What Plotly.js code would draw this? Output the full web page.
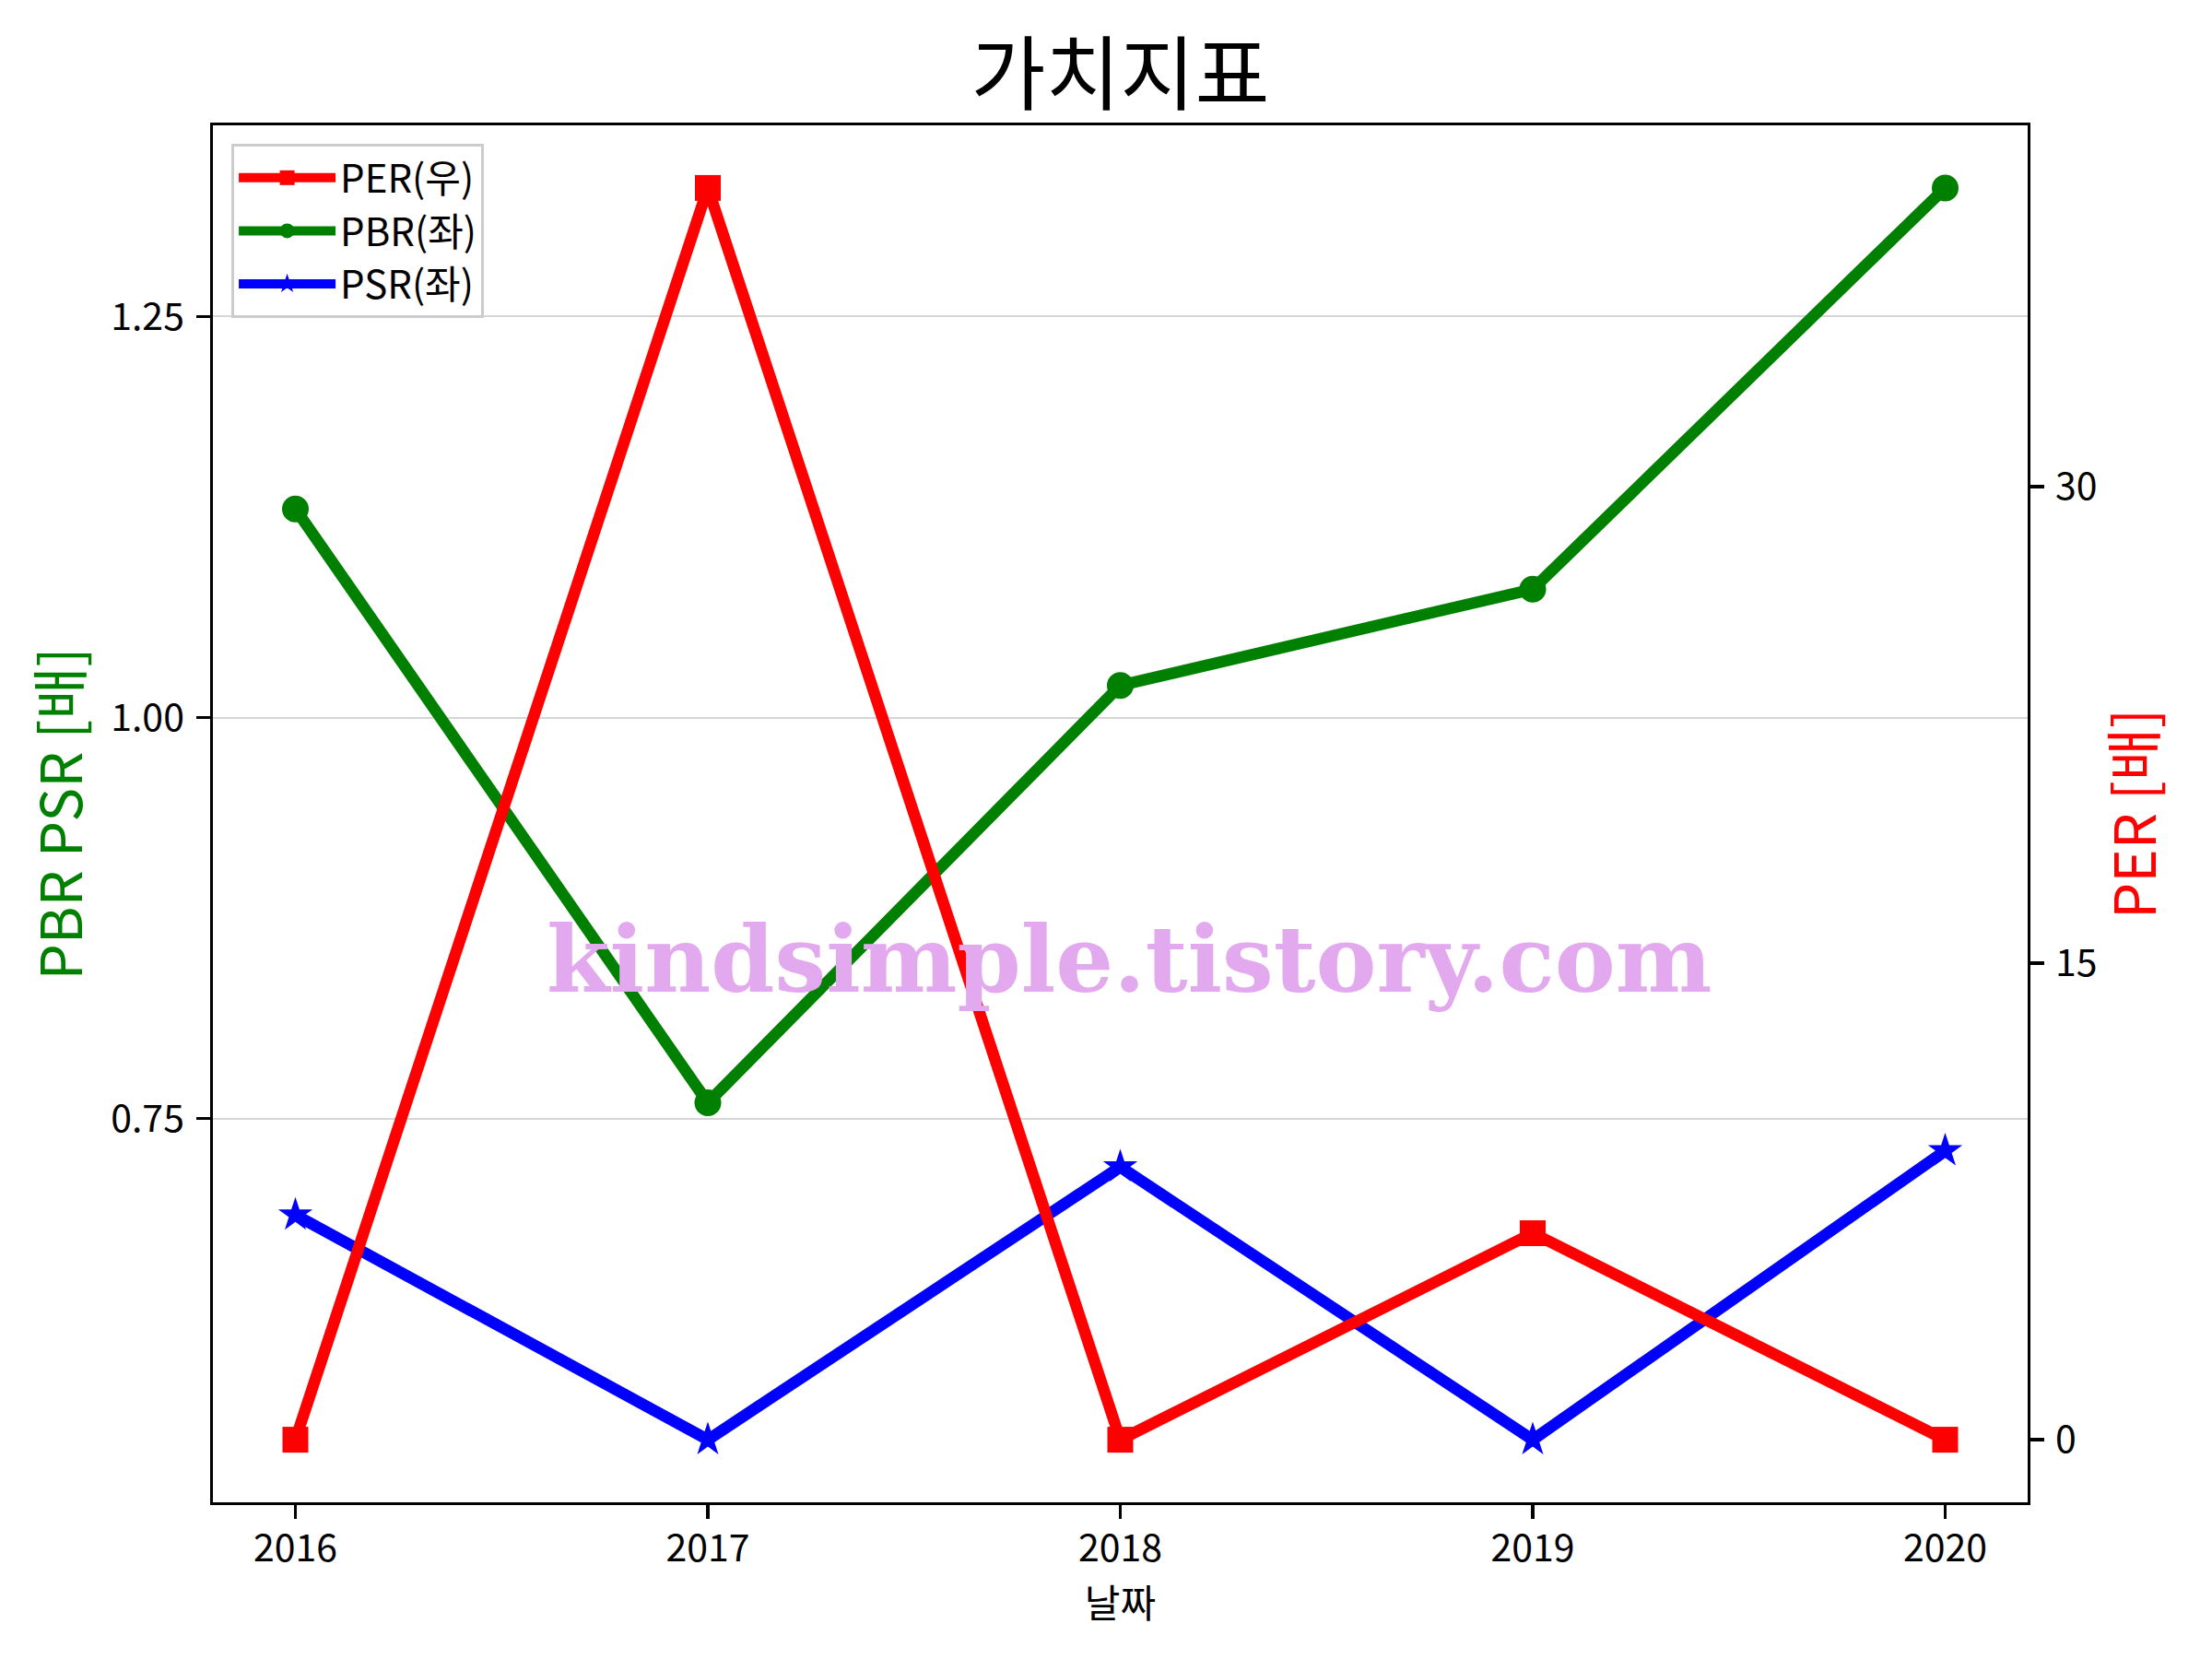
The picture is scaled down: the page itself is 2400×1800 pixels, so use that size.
<!DOCTYPE html>
<html>
<head>
<meta charset="utf-8">
<script src="https://cdn.plot.ly/plotly-3.0.1.min.js"></script>
<style>html,body{margin:0;padding:0;background:#fff;}</style>
</head>
<body>
<div id="chart" style="width:2400px;height:1800px;"></div>
<script>
const years = [2016, 2017, 2018, 2019, 2020];
const yearLabels = ['2016', '2017', '2018', '2019', '2020'];
const perValues = [0, 39.4, 0, 6.5, 0];
const pbrValues = [1.13, 0.76, 1.02, 1.08, 1.33];
const psrValues = [0.69, 0.55, 0.72, 0.55, 0.73];
const leftTicks = [0.75, 1.00, 1.25];
const leftTickLabels = ['0.75', '1.00', '1.25'];
const rightTicks = [0, 15, 30];
const rightTickLabels = ['0', '15', '30'];

function padRange(arrs) {
  const all = [].concat(...arrs);
  const lo = Math.min(...all), hi = Math.max(...all);
  const m = (hi - lo) * 0.05;
  return [lo - m, hi + m];
}

const FONT = '"Noto Sans CJK KR", "Noto Sans", sans-serif';
const LW = 12.5;

const traces = [
  {x: years, y: perValues, name: 'PER(우)', yaxis: 'y2', mode: 'lines+markers',
   line: {color: '#ff0000', width: LW}, marker: {symbol: 'square', size: 28, color: '#ff0000'}},
  {x: years, y: pbrValues, name: 'PBR(좌)', yaxis: 'y', mode: 'lines+markers',
   line: {color: '#008000', width: LW}, marker: {symbol: 'circle', size: 29, color: '#008000'}},
  {x: years, y: psrValues, name: 'PSR(좌)', yaxis: 'y', mode: 'lines+markers',
   line: {color: '#0000ff', width: LW}, marker: {symbol: 'star', size: 28, color: '#0000ff'}}
];

const axisCommon = {
  ticks: 'outside', ticklen: 14.6, tickwidth: 3.3, tickcolor: '#000',
  showline: true, linewidth: 3.3, linecolor: '#000', zeroline: false,
  tickfont: {family: FONT, size: 41, color: '#000'}, automargin: false
};

const layout = {
  width: 2400, height: 1800,
  paper_bgcolor: '#fff', plot_bgcolor: '#fff',
  margin: {l: 231, r: 200, t: 136, b: 170, pad: 0},
  font: {family: FONT, color: '#000'},
  title: {text: '가치지표', font: {family: FONT, size: 88, color: '#000'},
          x: 0.5, xref: 'paper', xanchor: 'center', y: 1 - 81/1800, yref: 'container', yanchor: 'middle'},
  xaxis: Object.assign({}, axisCommon, {
    range: [2015.8, 2020.2], tickvals: years, ticktext: yearLabels, mirror: true, showgrid: false,
    ticklabelstandoff: -3,
    title: {text: '날짜', font: {family: FONT, size: 42, color: '#000'}, standoff: 11}
  }),
  yaxis: Object.assign({}, axisCommon, {
    range: padRange([pbrValues, psrValues]), tickvals: leftTicks, ticktext: leftTickLabels,
    showgrid: true, gridcolor: '#d6d6d6', gridwidth: 2,
    ticklabelstandoff: 5,
    title: {text: 'PBR PSR [배]', font: {family: FONT, size: 62, color: '#008000'}, standoff: 11}
  }),
  yaxis2: Object.assign({}, axisCommon, {
    overlaying: 'y', side: 'right', anchor: 'x',
    range: padRange([perValues]), tickvals: rightTicks, ticktext: rightTickLabels,
    showgrid: false, ticklabelstandoff: 4,
    title: {text: 'PER [배]', font: {family: FONT, size: 62, color: '#ff0000'}, standoff: 22}
  }),
  legend: {x: 0.0102, y: 0.9866, xanchor: 'left', yanchor: 'top',
           bgcolor: 'rgba(255,255,255,0.8)', bordercolor: '#cccccc', borderwidth: 3,
           font: {family: FONT, size: 42, color: '#000'}, tracegroupgap: 0, itemwidth: 105},
  annotations: [{
    text: 'kindsimple.tistory.com', xref: 'paper', yref: 'paper', x: 0.505, y: 0.394,
    xanchor: 'center', yanchor: 'middle', showarrow: false,
    font: {family: '"DejaVu Serif", serif', size: 99, color: 'rgb(227,169,239)', weight: 'bold'}
  }]
};

Plotly.newPlot('chart', traces, layout, {displayModeBar: false, staticPlot: true});
</script>
</body>
</html>
